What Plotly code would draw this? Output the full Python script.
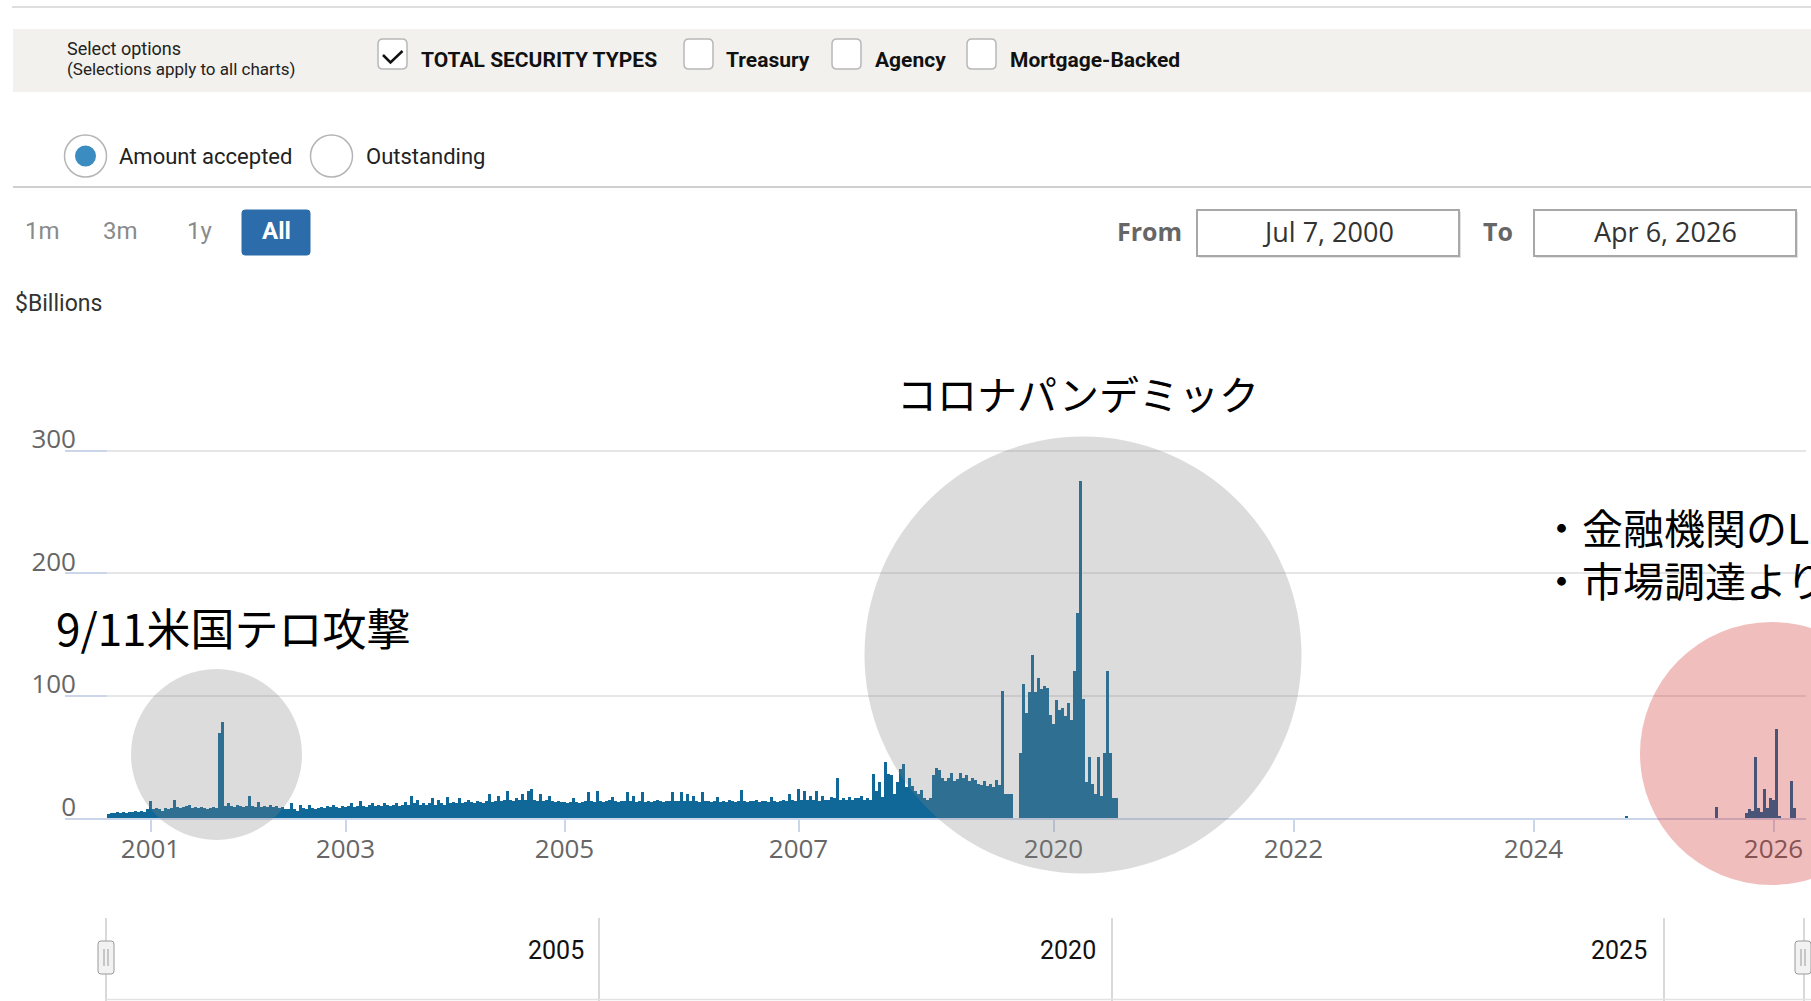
import plotly.graph_objects as go

# ---------------- data ----------------
# Repo operations, amount accepted ($ billions), one value per ordinal slot
repo_2000_2008 = [
    3, 4, 4, 5, 4, 5, 4, 5, 5, 6,
    5, 6, 5, 7, 14, 7, 8, 7, 6, 8,
    7, 8, 15, 9, 8, 9, 10, 11, 8, 9,
    8, 9, 8, 7, 8, 9, 8, 69, 78, 10,
    12, 10, 9, 11, 10, 9, 10, 18, 10, 9,
    13, 9, 10, 9, 11, 9, 10, 8, 9, 7,
    7, 12, 7, 6, 11, 8, 7, 11, 8, 7,
    8, 9, 8, 10, 9, 11, 9, 8, 10, 9,
    10, 12, 9, 10, 14, 10, 9, 11, 12, 10,
    11, 10, 12, 11, 10, 11, 12, 10, 11, 13,
    11, 18, 12, 15, 11, 12, 11, 12, 16, 11,
    15, 12, 11, 17, 12, 13, 12, 16, 12, 13,
    15, 13, 12, 14, 13, 12, 14, 20, 13, 14,
    18, 14, 15, 22, 15, 14, 16, 15, 20, 15,
    22, 24, 15, 14, 20, 14, 15, 18, 14, 13,
    14, 13, 13, 12, 13, 16, 13, 12, 13, 14,
    21, 14, 13, 22, 14, 13, 14, 15, 17, 14,
    13, 14, 14, 21, 14, 18, 13, 14, 21, 13,
    14, 13, 14, 15, 14, 13, 14, 14, 21, 14,
    14, 21, 14, 20, 14, 18, 14, 13, 21, 14,
    14, 13, 14, 17, 13, 14, 13, 15, 14, 13,
    14, 23, 14, 13, 14, 14, 15, 13, 14, 14,
    13, 17, 14, 13, 14, 15, 14, 20, 15, 14,
    24, 15, 22, 15, 18, 15, 22, 14, 18, 15,
    15, 17, 16, 33, 15, 16, 15, 17, 15, 16,
    16, 18, 15, 16, 15, 36, 22, 29, 17, 46,
    36, 35, 20, 29, 40, 44, 25, 33, 26, 22,
    20, 23, 16, 15, 16, 35, 41, 39, 33, 30,
    33, 37, 30, 32, 37, 33, 35, 30, 33, 31,
    28, 27, 30, 26, 28, 25, 31, 27, 104, 20,
    20, 20,
]
repo_2019_2020 = [
    0, 0, 53, 109, 86, 103, 133, 103, 114, 105,
    108, 106, 84, 77, 96, 88, 90, 83, 94, 80,
    120, 167, 275, 97, 29, 50, 28, 20, 50, 18,
    53, 120, 53, 16, 16,
]
repo_2020_2026 = [
    0, 0, 0, 0, 0, 0, 0, 0, 0, 0, 0, 0, 0, 0, 0, 0, 0, 0, 0, 0,
    0, 0, 0, 0, 0, 0, 0, 0, 0, 0, 0, 0, 0, 0, 0, 0, 0, 0, 0, 0,
    0, 0, 0, 0, 0, 0, 0, 0, 0, 0, 0, 0, 0, 0, 0, 0, 0, 0, 0, 0,
    0, 0, 0, 0, 0, 0, 0, 0, 0, 0, 0, 0, 0, 0, 0, 0, 0, 0, 0, 0,
    0, 0, 0, 0, 0, 0, 0, 0, 0, 0, 0, 0, 0, 0, 0, 0, 0, 0, 0, 0,
    0, 0, 0, 0, 0, 0, 0, 0, 0, 0, 0, 0, 0, 0, 0, 0, 0, 0, 0, 0,
    0, 0, 0, 0, 0, 0, 0, 0, 0, 0, 0, 0, 0, 0, 0, 0, 0, 0, 0, 0,
    0, 0, 0, 0, 0, 0, 0, 0, 0, 0, 0, 0, 0, 0, 0, 0, 0, 0, 0, 0,
    0, 0, 0, 0, 0, 0, 0, 0, 0, 1, 0, 0, 0, 0, 0, 0, 0, 0, 0, 0,
    0, 0, 0, 0, 0, 0, 0, 0, 0, 0, 0, 0, 0, 0, 0, 0, 0, 0, 0, 9,
    0, 0, 0, 0, 0, 0, 0, 0, 0, 4, 7, 6, 50, 8, 5, 24, 8, 16, 15, 73,
    2, 0, 0, 0, 30, 8, 0, 0, 0,
]
year_labels = ["2001", "2003", "2005", "2007", "2020", "2022", "2024", "2026"]
year_first_slot = [14, 79, 152, 230, 315, 395, 475, 555]
y_tick_values = [0, 100, 200, 300, 400]
y_tick_labels = ["0", "100", "200", "300", ""]

nav_labels = ["2005", "2020", "2025"]
checkbox_labels = ["TOTAL SECURITY TYPES", "Treasury", "Agency", "Mortgage-Backed"]
radio_labels = ["Amount accepted", "Outstanding"]
range_labels = ["1m", "3m", "1y", "All"]
date_from, date_to = "Jul 7, 2000", "Apr 6, 2026"
note_911 = "9/11米国テロ攻撃"
note_covid = "コロナパンデミック"
note_2026 = ["・金融機関のL", "・市場調達より"]

values = repo_2000_2008 + repo_2019_2020 + repo_2020_2026
slots = list(range(len(values)))

# ---------------- page geometry helpers ----------------
W, H = 1811, 1001
L, R, T, B = 65, 5, 328, 183
PW, PH = W - L - R, H - T - B


def px(x):
    return (x - L) / PW


def py(y):
    return (H - B - y) / PH


UI = "Roboto, Liberation Sans, sans-serif"
OPEN = "Open Sans, Segoe UI, sans-serif"
JP = "Noto Sans CJK JP, Noto Sans CJK SC, sans-serif"

fig = go.Figure()
fig.add_trace(go.Bar(
    x=slots, y=values, width=1,
    marker=dict(color="#106899", line=dict(width=0)),
    hoverinfo="skip", showlegend=False,
))

shapes = []
ann = []


def rect(x0, y0, x1, y1, fill, line="rgba(0,0,0,0)", lw=0, layer="above"):
    shapes.append(dict(type="rect", xref="paper", yref="paper",
                       x0=px(x0), x1=px(x1), y0=py(y1), y1=py(y0),
                       fillcolor=fill, line=dict(color=line, width=lw), layer=layer))


def rrect(x0, y0, x1, y1, r, fill, line, lw, layer="above"):
    p = (f"M {px(x0 + r)},{py(y0)} L {px(x1 - r)},{py(y0)} "
         f"Q {px(x1)},{py(y0)} {px(x1)},{py(y0 + r)} L {px(x1)},{py(y1 - r)} "
         f"Q {px(x1)},{py(y1)} {px(x1 - r)},{py(y1)} L {px(x0 + r)},{py(y1)} "
         f"Q {px(x0)},{py(y1)} {px(x0)},{py(y1 - r)} L {px(x0)},{py(y0 + r)} "
         f"Q {px(x0)},{py(y0)} {px(x0 + r)},{py(y0)} Z")
    shapes.append(dict(type="path", xref="paper", yref="paper", path=p,
                       fillcolor=fill, line=dict(color=line, width=lw), layer=layer))


def polyline(pts, color, lw):
    p = "M " + " L ".join(f"{px(x)},{py(y)}" for x, y in pts)
    shapes.append(dict(type="path", xref="paper", yref="paper", path=p,
                       line=dict(color=color, width=lw), layer="above"))


def hline(x0, x1, y, color, lw):
    shapes.append(dict(type="line", xref="paper", yref="paper",
                       x0=px(x0), x1=px(x1), y0=py(y), y1=py(y),
                       line=dict(color=color, width=lw)))


def vline(x, y0, y1, color, lw):
    shapes.append(dict(type="line", xref="paper", yref="paper",
                       x0=px(x), x1=px(x), y0=py(y0), y1=py(y1),
                       line=dict(color=color, width=lw)))


def circle(cx, cy, r, fill, lw=0, line="rgba(0,0,0,0)"):
    shapes.append(dict(type="circle", xref="paper", yref="paper",
                       x0=px(cx - r), x1=px(cx + r), y0=py(cy + r), y1=py(cy - r),
                       fillcolor=fill, line=dict(color=line, width=lw), layer="above"))


def text(x, y, s, size, color, family, xanchor="left", bold=False):
    ann.append(dict(xref="paper", yref="paper", x=px(x), y=py(y), text=s,
                    showarrow=False, xanchor=xanchor, yanchor="middle", align="left",
                    font=dict(size=size, color=color, family=family,
                              weight="bold" if bold else "normal")))


# top rule + options band
hline(12, W, 7, "#dedede", 2)
rect(13, 29, W, 92, "#f3f1ed")
text(65, 48, "Select options", 18, "#222", UI)
text(65, 69, "(Selections apply to all charts)", 17, "#222", UI)
box_x = [378, 684, 832, 967]
lab_x = [419, 724, 873, 1008]
for i, (bx, lx, lab) in enumerate(zip(box_x, lab_x, checkbox_labels)):
    rrect(bx, 39, bx + 29, 69, 5, "white", "#b8b8b8", 1.5)
    text(lx, 60, lab, 21, "#111", UI, bold=True)
    if i == 0:
        polyline([(bx + 5, 55), (bx + 12.5, 62.5), (bx + 24.5, 51)], "#111", 2.5)

# radio buttons
for cx, lx, lab, sel in zip([85.5, 331.5], [117, 364], radio_labels, [True, False]):
    circle(cx, 156, 21, "white", 1.5, "#b5b5b5")
    if sel:
        circle(cx, 156, 10.5, "#3a8cc1")
    text(lx, 156, lab, 22, "#222", UI)
hline(13, W, 187, "#d0d0d0", 2)

# range selector
for cx, lab in zip([42, 120, 199], range_labels[:3]):
    text(cx, 231, lab, 24, "#8a8a8a", UI, xanchor="center")
rrect(242, 210, 310, 255, 3, "#2d6cab", "#2d6cab", 1)
text(276, 231, range_labels[3], 24, "white", UI, xanchor="center", bold=True)

# date inputs
text(1149, 231, "From", 25, "#666", OPEN, xanchor="center", bold=True)
rect(1199, 212, 1461, 258, "#e2e2e2")
rect(1197, 210, 1459, 256, "white", "#a8a8a8", 2)
text(1328, 231, date_from, 27, "#333", OPEN, xanchor="center")
text(1498, 231, "To", 25, "#666", OPEN, xanchor="center", bold=True)
rect(1536, 212, 1798, 258, "#e2e2e2")
rect(1534, 210, 1796, 256, "white", "#a8a8a8", 2)
text(1665, 231, date_to, 27, "#333", OPEN, xanchor="center")

text(13, 303, "$Billions", 23, "#333", UI)

# navigator strip
for x in [106, 599, 1112, 1664, 1804]:
    vline(x, 918, 1001, "#cccccc", 1.5)
hline(106, W, 999.5, "#e2e2e2", 1.5)
for rx, lab in zip([586, 1098, 1649], nav_labels):
    text(rx, 950, lab, 25, "#111", UI, xanchor="right")
for hx in [98, 1795]:
    rrect(hx, 941, hx + 16, 974, 3, "#f2f2f2", "#9a9a9a", 1)
    vline(hx + 6, 949, 966, "#9a9a9a", 1)
    vline(hx + 10, 949, 966, "#9a9a9a", 1)

# highlight circles
circle(216.5, 754.5, 85.5, "rgba(128,128,128,0.28)")
circle(1083, 655, 218.5, "rgba(128,128,128,0.28)")
circle(1771.5, 753.5, 131.5, "rgba(210,40,40,0.30)")

# Japanese notes
text(54, 627, note_911, 44, "black", JP)
text(895, 393, note_covid, 40, "black", JP)
text(1539, 552, "<br>".join(note_2026), 41, "black", JP)

fig.update_layout(
    width=W, height=H,
    margin=dict(l=L, r=R, t=T, b=B, autoexpand=False),
    paper_bgcolor="white", plot_bgcolor="rgba(0,0,0,0)",
    bargap=0, showlegend=False,
    shapes=shapes, annotations=ann,
    xaxis=dict(
        range=[-14.5, (1806 - 108.5) / 3],
        tickmode="array", tickvals=year_first_slot, ticktext=year_labels,
        showgrid=False, zeroline=False,
        showline=True, linecolor="#ccd6eb", linewidth=2,
        ticks="outside", ticklen=12, tickwidth=2, tickcolor="#ccd6eb",
        ticklabelstandoff=-5,
        tickfont=dict(family=OPEN, size=26, color="#666666"),
        fixedrange=True,
    ),
    yaxis=dict(
        range=[0, 400],
        tickmode="array", tickvals=y_tick_values, ticktext=y_tick_labels,
        showgrid=True, gridcolor="#e6e6e6", gridwidth=2, zeroline=False,
        showline=False,
        ticks="inside", ticklen=42, tickwidth=2, tickcolor="#ccd6eb",
        ticklabelposition="outside top", ticklabelstandoff=-12, ticklabelshift=8,
        tickfont=dict(family=OPEN, size=26, color="#666666"),
        fixedrange=True,
    ),
)

fig.write_html(
    "out.html",
    config={"displayModeBar": False},
    post_script="document.body.style.margin='0';document.body.style.overflow='hidden';",
)
